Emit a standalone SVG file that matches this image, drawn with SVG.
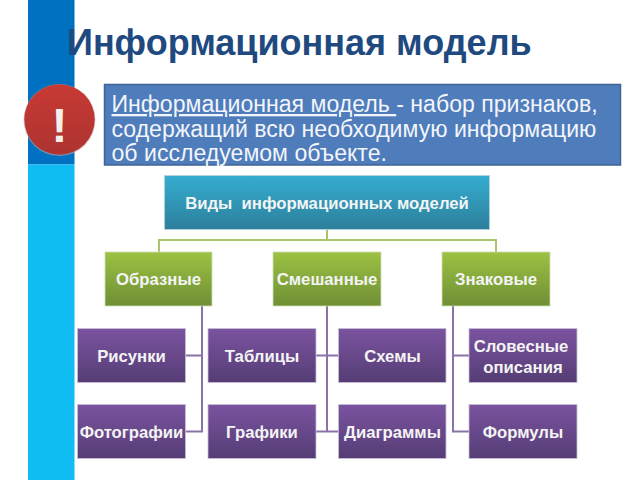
<svg xmlns="http://www.w3.org/2000/svg" width="640" height="480" viewBox="0 0 640 480">
<defs>
<linearGradient id="gt" x1="0" y1="0" x2="0" y2="1"><stop offset="0" stop-color="#35add0"/><stop offset="1" stop-color="#2d7f9c"/></linearGradient>
<linearGradient id="gg" x1="0" y1="0" x2="0" y2="1"><stop offset="0" stop-color="#9cc243"/><stop offset="1" stop-color="#6f8f35"/></linearGradient>
<linearGradient id="gp" x1="0" y1="0" x2="0" y2="1"><stop offset="0" stop-color="#7b53a0"/><stop offset="1" stop-color="#553d75"/></linearGradient>
<linearGradient id="gr" x1="0" y1="0" x2="0" y2="1"><stop offset="0" stop-color="#c83a34"/><stop offset="1" stop-color="#ad3330"/></linearGradient>
</defs>
<style>
text{font-family:"Liberation Sans",Arial,sans-serif}
.n{font-size:16.7px;font-weight:bold;fill:#f4f4f4;text-anchor:middle}
.d{font-size:23.1px;fill:#f2f5fa}
.c{fill:none;stroke-width:2}
.t{fill:url(#gt);stroke:#b9d3dc;stroke-width:.8}
.g{fill:url(#gg);stroke:#d3dfb8;stroke-width:.8}
.p{fill:url(#gp);stroke:#c9c0d6;stroke-width:.8}
</style>
<rect width="640" height="480" fill="#fff"/>
<g id="stripe">
<rect x="28" y="0" width="46.500" height="164.500" fill="#0070c0"/>
<rect x="28" y="164.500" width="46.500" height="315.500" fill="#0fbdf2"/>
</g>
<text id="title" x="67" y="54.500" font-size="36" font-weight="bold" fill="#1f4a7f">Информационная модель</text>
<g id="definition">
<rect x="104.500" y="84.500" width="516" height="80.500" fill="#4f7cba" stroke="#3e6595" stroke-width="1.500"/>
<text class="d" x="111.500" y="112" xml:space="preserve"><tspan text-decoration="underline">Информационная модель </tspan>- набор признаков,</text>
<text class="d" x="111.500" y="136.500">содержащий всю необходимую информацию</text>
<text class="d" x="111.500" y="161">об исследуемом объекте.</text>
</g>
<g id="badge">
<circle cx="59.500" cy="120" r="36" fill="#c9a6a3" opacity=".6"/>
<circle cx="59.500" cy="119.500" r="35.200" fill="url(#gr)"/>
<text x="59.500" y="142" font-size="48" font-weight="bold" fill="#f3f0ec" text-anchor="middle">!</text>
</g>
<g id="connectors">
<path class="c" stroke="#a9c46c" d="M327 230V240M159 252V240H496V252"/>
<path class="c" stroke="#8a72a8" d="M202 306V431.500H185.500M185.500 355.500H202M327 306V431.500M316 355.500H338.500M316 431.500H338.500M453 306V431.500H469M453 355.500H469"/>
</g>
<g id="n-root"><rect class="t" x="164.500" y="175.500" width="325" height="54"/><text class="n" x="327" y="208.500" xml:space="preserve">Виды  информационных моделей</text></g>
<g id="n-obraz"><rect class="g" x="105" y="252" width="107" height="54"/><text class="n" x="158.500" y="285">Образные</text></g>
<g id="n-mixed"><rect class="g" x="273" y="252" width="108" height="54"/><text class="n" x="327" y="285">Смешанные</text></g>
<g id="n-znak"><rect class="g" x="442" y="252" width="108" height="54"/><text class="n" x="496" y="285">Знаковые</text></g>
<g id="n-ris"><rect class="p" x="77.500" y="328.500" width="108" height="54"/><text class="n" x="131.500" y="362">Рисунки</text></g>
<g id="n-tab"><rect class="p" x="208" y="328.500" width="108" height="54"/><text class="n" x="262" y="362">Таблицы</text></g>
<g id="n-sch"><rect class="p" x="338.500" y="328.500" width="107.500" height="54"/><text class="n" x="392.500" y="362">Схемы</text></g>
<g id="n-slov"><rect class="p" x="469" y="328.500" width="108" height="54"/><text class="n" x="521" y="352">Словесные</text><text class="n" x="523" y="373">описания</text></g>
<g id="n-foto"><rect class="p" x="77.500" y="404.500" width="108" height="54"/><text class="n" x="131.500" y="438">Фотографии</text></g>
<g id="n-graf"><rect class="p" x="208" y="404.500" width="108" height="54"/><text class="n" x="262" y="438">Графики</text></g>
<g id="n-diag"><rect class="p" x="338.500" y="404.500" width="107.500" height="54"/><text class="n" x="392.500" y="438">Диаграммы</text></g>
<g id="n-form"><rect class="p" x="469" y="404.500" width="108" height="54"/><text class="n" x="523" y="438">Формулы</text></g>
</svg>
